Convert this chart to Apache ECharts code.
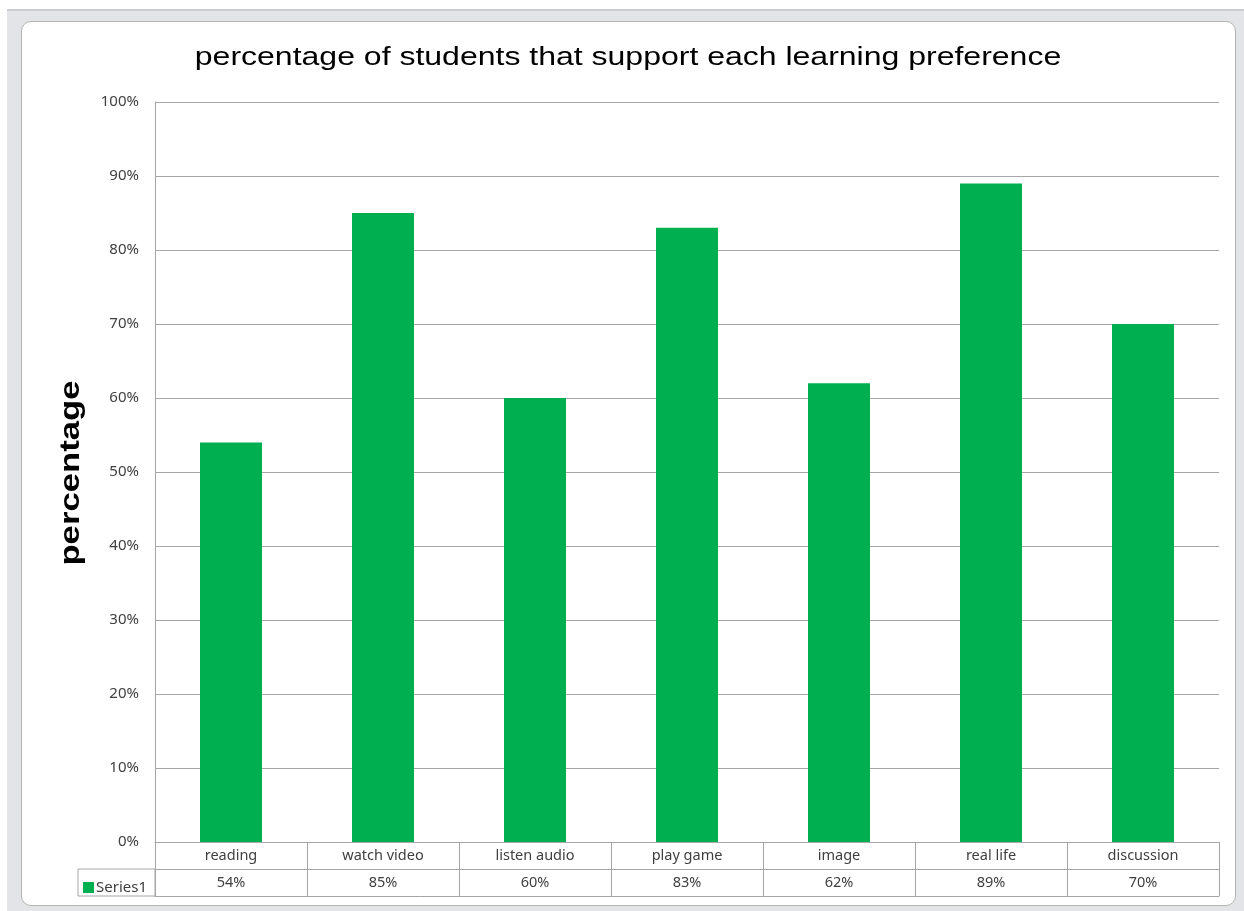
<!DOCTYPE html>
<html>
<head>
<meta charset="utf-8">
<script src="https://cdn.jsdelivr.net/npm/echarts@6/dist/echarts.min.js"></script>
<style>
  html, body { margin: 0; padding: 0; background: #ffffff; }
  #outer { position: absolute; left: 7px; top: 9px; width: 1237px; height: 902px; background: #e3e4e7; border-top: 2px solid #c9ccd3; box-sizing: border-box; }
  #inner { position: absolute; left: 21px; top: 21px; width: 1215px; height: 885px; background: #ffffff; border: 1px solid #b4b4b4; border-radius: 10px; box-sizing: border-box; }
  #chart { position: absolute; left: 0; top: 0; width: 1244px; height: 911px; }
</style>
</head>
<body>
<div id="outer"></div>
<div id="inner"></div>
<div id="chart"></div>
<script>
const categories = ['reading', 'watch video', 'listen audio', 'play game', 'image', 'real life', 'discussion'];
const values = [54, 85, 60, 83, 62, 89, 70];
const yTicks = [0, 10, 20, 30, 40, 50, 60, 70, 80, 90, 100];
const seriesName = 'Series1';
const titleText = 'percentage of students that support each learning preference';
const yName = 'percentage';

const chart = echarts.init(document.getElementById('chart'));
const grey = '#a6a6a6';
const labelColor = '#404040';
const font = "'Noto Sans', sans-serif";
const headFont = "'Liberation Sans', Arial, sans-serif";

chart.setOption({
  animation: false,
  legend: {
    data: [seriesName],
    left: 78,
    top: 875,
    icon: 'rect',
    itemWidth: 11,
    itemHeight: 11,
    itemGap: 4,
    textStyle: { fontFamily: font, fontSize: 15, color: labelColor, padding: [0, 0, 0, -3] }
  },
  grid: { left: 155, right: 25, top: 102, bottom: 69, containLabel: false },
  graphic: [
    {
      type: 'rect',
      shape: { x: 78, y: 869, width: 77, height: 27 },
      style: { fill: 'none', stroke: grey, lineWidth: 1 },
      silent: true
    },
    {
      type: 'text', x: 628, y: 58, scaleX: 1.28,
      style: { text: titleText, font: '25px ' + headFont, fill: '#000', align: 'center', verticalAlign: 'middle' },
      silent: true
    },
    {
      type: 'text', x: 71, y: 473, rotation: Math.PI / 2, scaleX: 1.24,
      style: { text: yName, font: 'bold 28px ' + headFont, fill: '#000', align: 'center', verticalAlign: 'middle' },
      silent: true
    }
  ],
  xAxis: [
    {
      type: 'category', data: categories, position: 'bottom',
      axisLine: { show: true, lineStyle: { color: grey } },
      axisTick: { show: true, length: 54, interval: 0, lineStyle: { color: grey } },
      axisLabel: { interval: 0, margin: 6, fontFamily: font, fontSize: 14.5, color: labelColor }
    },
    {
      type: 'category', data: values.map(v => v + '%'), position: 'bottom', offset: 27,
      axisLine: { show: true, lineStyle: { color: grey } },
      axisTick: { show: false },
      axisLabel: { interval: 0, margin: 6, fontFamily: font, fontSize: 14.5, color: labelColor }
    },
    {
      type: 'category', data: categories, position: 'bottom', offset: 54,
      axisLine: { show: true, lineStyle: { color: grey } },
      axisTick: { show: false },
      axisLabel: { show: false }
    }
  ],
  yAxis: {
    type: 'value', min: yTicks[0], max: yTicks[yTicks.length - 1], interval: 10,
    axisLine: { show: true, lineStyle: { color: grey } },
    axisTick: { show: false },
    splitLine: { show: true, lineStyle: { color: grey } },
    axisLabel: { formatter: '{value}%', margin: 16, fontFamily: font, fontSize: 15, color: labelColor }
  },
  series: [{
    name: seriesName,
    type: 'bar',
    data: values,
    barWidth: 62,
    itemStyle: { color: '#00b050' }
  }]
});
</script>
</body>
</html>
